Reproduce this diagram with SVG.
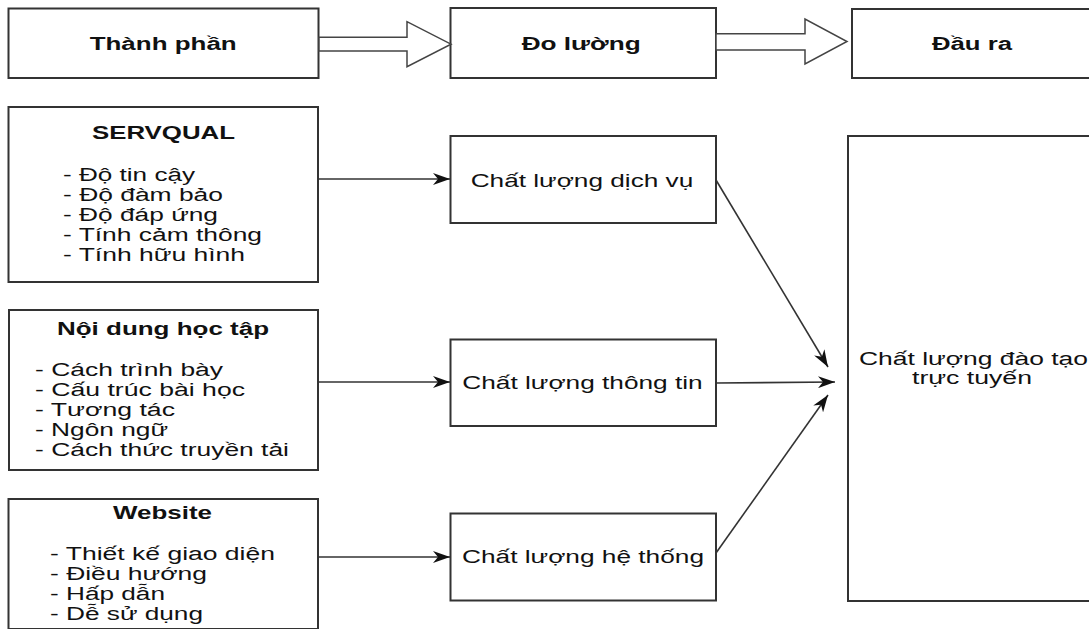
<svg xmlns="http://www.w3.org/2000/svg" width="1089" height="629" viewBox="0 0 1089 629">
<style>
.box{fill:#fff;stroke:#333;stroke-width:2}
.blk{fill:#fff;stroke:#444;stroke-width:1.5}
.t{font-family:"Liberation Sans",Arial,sans-serif;font-size:18px;fill:#111}
.b{font-weight:bold}
.con{fill:none;stroke:#333;stroke-width:1.6}
</style>
<defs>
<marker id="ah" markerUnits="userSpaceOnUse" viewBox="0 0 17 12" refX="17" refY="6" markerWidth="17" markerHeight="12" orient="auto">
<path d="M0,0 L17,6 L0,12 L5,6 Z" fill="#111"/>
</marker>
</defs>
<rect width="1089" height="629" fill="#fff"/>

<g id="thanh-phan">
<rect class="box" x="8.5" y="8.5" width="310" height="69.5"/>
<text class="t b" x="89.7" y="50" textLength="147" lengthAdjust="spacingAndGlyphs">Thành phần</text>
</g>
<g id="do-luong">
<rect class="box" x="450.5" y="8" width="265.5" height="70"/>
<text class="t b" x="521.7" y="50" textLength="119" lengthAdjust="spacingAndGlyphs">Đo lường</text>
</g>
<g id="dau-ra">
<rect class="box" x="852" y="9" width="250" height="69"/>
<text class="t b" x="932" y="50" textLength="80" lengthAdjust="spacingAndGlyphs">Đầu ra</text>
</g>

<g id="servqual">
<rect class="box" x="8.5" y="107" width="309.5" height="175"/>
<text class="t b" x="92" y="139" textLength="143" lengthAdjust="spacingAndGlyphs">SERVQUAL</text>
<text class="t" x="63" y="181" textLength="132" lengthAdjust="spacingAndGlyphs">- Độ tin cậy</text>
<text class="t" x="63" y="201" textLength="160" lengthAdjust="spacingAndGlyphs">- Độ đàm bảo</text>
<text class="t" x="63" y="221" textLength="155" lengthAdjust="spacingAndGlyphs">- Độ đáp ứng</text>
<text class="t" x="63" y="241" textLength="199" lengthAdjust="spacingAndGlyphs">- Tính cảm thông</text>
<text class="t" x="63" y="261" textLength="182" lengthAdjust="spacingAndGlyphs">- Tính hữu hình</text>
</g>

<g id="noi-dung">
<rect class="box" x="9" y="310" width="309" height="160"/>
<text class="t b" x="57" y="335" textLength="212" lengthAdjust="spacingAndGlyphs">Nội dung học tập</text>
<text class="t" x="35" y="376" textLength="188" lengthAdjust="spacingAndGlyphs">- Cách trình bày</text>
<text class="t" x="35" y="396" textLength="210" lengthAdjust="spacingAndGlyphs">- Cấu trúc bài học</text>
<text class="t" x="35" y="416" textLength="140" lengthAdjust="spacingAndGlyphs">- Tương tác</text>
<text class="t" x="35" y="436" textLength="133" lengthAdjust="spacingAndGlyphs">- Ngôn ngữ</text>
<text class="t" x="35" y="456" textLength="254" lengthAdjust="spacingAndGlyphs">- Cách thức truyền tải</text>
</g>

<g id="website">
<rect class="box" x="8.5" y="499" width="309.5" height="130"/>
<text class="t b" x="113" y="519" textLength="99" lengthAdjust="spacingAndGlyphs">Website</text>
<text class="t" x="50" y="560" textLength="225" lengthAdjust="spacingAndGlyphs">- Thiết kế giao diện</text>
<text class="t" x="50" y="580" textLength="157" lengthAdjust="spacingAndGlyphs">- Điều hướng</text>
<text class="t" x="50" y="600" textLength="115" lengthAdjust="spacingAndGlyphs">- Hấp dẫn</text>
<text class="t" x="50" y="620" textLength="153" lengthAdjust="spacingAndGlyphs">- Dễ sử dụng</text>
</g>

<g id="cl-dich-vu">
<rect class="box" x="450.5" y="136" width="265.5" height="87"/>
<text class="t" x="470.7" y="187" textLength="222.6" lengthAdjust="spacingAndGlyphs">Chất lượng dịch vụ</text>
</g>
<g id="cl-thong-tin">
<rect class="box" x="450.5" y="339.5" width="265.5" height="86.5"/>
<text class="t" x="462.3" y="389" textLength="240.4" lengthAdjust="spacingAndGlyphs">Chất lượng thông tin</text>
</g>
<g id="cl-he-thong">
<rect class="box" x="450.5" y="513.5" width="265.5" height="87"/>
<text class="t" x="462" y="563" textLength="242" lengthAdjust="spacingAndGlyphs">Chất lượng hệ thống</text>
</g>

<g id="cl-dao-tao">
<rect class="box" x="848" y="136" width="260" height="465"/>
<text class="t" x="859" y="365" textLength="229" lengthAdjust="spacingAndGlyphs">Chất lượng đào tạo</text>
<text class="t" x="912" y="383.5" textLength="120" lengthAdjust="spacingAndGlyphs">trực tuyến</text>
</g>

<g id="connectors">
<polygon class="blk" points="319,37.3 407,37.3 407,21.7 451,44.2 407,66.7 407,51 319,51"/>
<polygon class="blk" points="716,33.7 805,33.7 805,19 847,41.5 805,64 805,50 716,50"/>
<line class="con" x1="318" y1="179" x2="450" y2="179" marker-end="url(#ah)"/>
<line class="con" x1="318" y1="382" x2="450" y2="382" marker-end="url(#ah)"/>
<line class="con" x1="318" y1="557" x2="450" y2="557" marker-end="url(#ah)"/>
<line class="con" x1="716" y1="180" x2="828" y2="367" marker-end="url(#ah)"/>
<line class="con" x1="716" y1="383" x2="835" y2="382" marker-end="url(#ah)"/>
<line class="con" x1="716" y1="553" x2="828" y2="395" marker-end="url(#ah)"/>
</g>
</svg>
